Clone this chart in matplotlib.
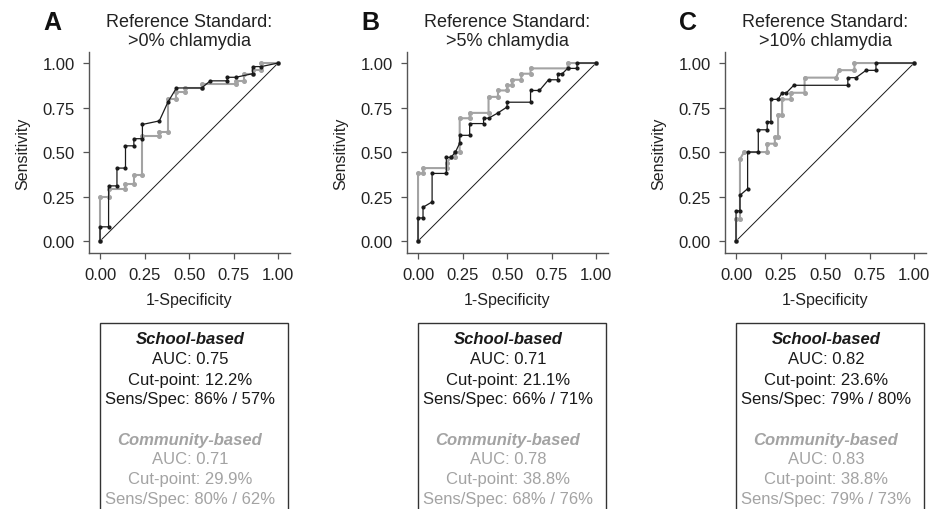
import numpy as np
import matplotlib.pyplot as plt
from matplotlib.patches import Rectangle

plt.rcParams['font.family'] = ['Liberation Sans', 'DejaVu Sans']

panels = ['A', 'B', 'C']
titles = ['Reference Standard:\n>0% chlamydia',
          'Reference Standard:\n>5% chlamydia',
          'Reference Standard:\n>10% chlamydia']

# ROC points (1-specificity, sensitivity)
school_x = [
    [0, 0, 0.048, 0.048, 0.095, 0.095, 0.143, 0.143, 0.19, 0.19, 0.238, 0.238,
     0.333, 0.381, 0.429, 0.571, 0.619, 0.714, 0.714, 0.762, 0.857, 0.857, 0.905, 1],
    [0, 0, 0.028, 0.028, 0.079, 0.079, 0.159, 0.159, 0.185, 0.21, 0.234, 0.234,
     0.29, 0.29, 0.368, 0.368, 0.396, 0.449, 0.5, 0.5, 0.632, 0.632, 0.682, 0.733,
     0.785, 0.785, 0.81, 0.84, 0.893, 0.893, 1],
    [0, 0, 0.022, 0.022, 0.065, 0.065, 0.125, 0.125, 0.175, 0.175, 0.196, 0.196,
     0.236, 0.259, 0.283, 0.324, 0.628, 0.628, 0.674, 0.73, 0.786, 0.786, 1],
]
school_y = [
    [0, 0.08, 0.08, 0.31, 0.31, 0.41, 0.41, 0.535, 0.535, 0.575, 0.575, 0.655,
     0.675, 0.78, 0.86, 0.86, 0.9, 0.9, 0.92, 0.92, 0.94, 0.98, 0.98, 1],
    [0, 0.13, 0.13, 0.19, 0.22, 0.38, 0.38, 0.47, 0.47, 0.5, 0.55, 0.594,
     0.594, 0.66, 0.66, 0.69, 0.69, 0.72, 0.753, 0.78, 0.78, 0.846, 0.846, 0.906,
     0.906, 0.94, 0.94, 0.97, 0.97, 1, 1],
    [0, 0.17, 0.17, 0.257, 0.294, 0.5, 0.5, 0.625, 0.625, 0.67, 0.67, 0.796,
     0.796, 0.833, 0.833, 0.875, 0.875, 0.918, 0.918, 0.959, 0.959, 1, 1],
]
comm_x = [
    [0, 0, 0.048, 0.048, 0.143, 0.143, 0.19, 0.19, 0.238, 0.238, 0.333, 0.333,
     0.381, 0.381, 0.429, 0.429, 0.476, 0.476, 0.571, 0.571, 0.762, 0.762, 0.81,
     0.81, 0.857, 0.857, 0.905, 0.905, 1],
    [0, 0, 0.028, 0.028, 0.16, 0.16, 0.185, 0.21, 0.21, 0.234, 0.234, 0.29, 0.29,
     0.396, 0.396, 0.449, 0.449, 0.5, 0.5, 0.527, 0.527, 0.58, 0.58, 0.632, 0.632,
     0.841, 0.841, 1],
    [0, 0, 0.022, 0.022, 0.045, 0.175, 0.175, 0.218, 0.218, 0.236, 0.236, 0.259,
     0.259, 0.307, 0.307, 0.385, 0.385, 0.562, 0.58, 0.665, 0.665, 1],
]
comm_y = [
    [0, 0.25, 0.25, 0.29, 0.29, 0.32, 0.32, 0.37, 0.37, 0.59, 0.59, 0.61,
     0.61, 0.8, 0.8, 0.84, 0.84, 0.86, 0.86, 0.88, 0.88, 0.9, 0.9,
     0.94, 0.94, 0.96, 0.96, 1, 1],
    [0, 0.38, 0.38, 0.41, 0.41, 0.44, 0.47, 0.47, 0.5, 0.5, 0.69, 0.69, 0.72,
     0.72, 0.81, 0.81, 0.846, 0.846, 0.875, 0.875, 0.906, 0.906, 0.94, 0.94, 0.97,
     0.97, 1, 1],
    [0, 0.125, 0.125, 0.46, 0.5, 0.5, 0.547, 0.547, 0.584, 0.584, 0.71, 0.71,
     0.796, 0.796, 0.833, 0.833, 0.918, 0.918, 0.96, 0.96, 1, 1],
]

school_auc = ['0.75', '0.71', '0.82']
school_cut = ['12.2%', '21.1%', '23.6%']
school_ss = ['86% / 57%', '66% / 71%', '79% / 80%']
comm_auc = ['0.71', '0.78', '0.83']
comm_cut = ['29.9%', '38.8%', '38.8%']
comm_ss = ['80% / 62%', '68% / 76%', '79% / 73%']

black = '#1a1a1a'
gray = '#a3a3a3'
axcol = '#555555'

W, H = 930, 510
fig = plt.figure(figsize=(9.3, 5.1), dpi=100)

for i in range(3):
    left = 89 + 318 * i
    ax = fig.add_axes([left / W, 1 - 254 / H, 201 / W, 201 / H])
    ax.plot([0, 1], [0, 1], color=black, lw=0.7)
    ax.plot(comm_x[i], comm_y[i], color=gray, lw=1.5, marker='o', ms=2.6,
            mfc=gray, mec=gray)
    ax.plot(school_x[i], school_y[i], color=black, lw=0.9, marker='o', ms=2.0,
            mfc=black, mec=black)
    ax.set_xlim(-0.062, 1.067)
    ax.set_ylim(-0.067, 1.062)
    ticks = [0, 0.25, 0.5, 0.75, 1]
    ax.set_xticks(ticks)
    ax.set_yticks(ticks)
    ax.set_xticklabels(['0.00', '0.25', '0.50', '0.75', '1.00'])
    ax.set_yticklabels(['0.00', '0.25', '0.50', '0.75', '1.00'])
    ax.tick_params(labelsize=12, length=4, width=0.9, color=axcol,
                   labelcolor='#222222', pad=6)
    for s in ['top', 'right']:
        ax.spines[s].set_visible(False)
    for s in ['left', 'bottom']:
        ax.spines[s].set_color(axcol)
        ax.spines[s].set_linewidth(1.0)
    ax.set_xlabel('1-Specificity', fontsize=11.5, color='#222222', labelpad=7)
    ax.set_ylabel('Sensitivity', fontsize=11.5, color='#222222', labelpad=9)

    cx = (left + 100) / W
    fig.text(cx, 1 - 32 / H, titles[i], ha='center', va='center',
             fontsize=13, color='#222222', linespacing=1.15)
    fig.text((left - 37) / W, 1 - 23 / H, panels[i], ha='center', va='center',
             fontsize=18, fontweight='bold', color='#111111')

    bl = left + 11
    fig.add_artist(Rectangle((bl / W, -0.05), 188 / W, (1 - 324 / H) + 0.05,
                             transform=fig.transFigure, fill=False,
                             edgecolor='#333333', lw=1.0))
    tx = (bl + 90) / W
    lines = [
        ('School-based', 340, black, True),
        ('AUC: ' + school_auc[i], 360, black, False),
        ('Cut-point: ' + school_cut[i], 380, black, False),
        ('Sens/Spec: ' + school_ss[i], 400, black, False),
        ('Community-based', 440, gray, True),
        ('AUC: ' + comm_auc[i], 460, gray, False),
        ('Cut-point: ' + comm_cut[i], 480, gray, False),
        ('Sens/Spec: ' + comm_ss[i], 500, gray, False),
    ]
    for txt, yy, col, hdr in lines:
        if hdr:
            fig.text(tx, 1 - yy / H, txt, ha='center', va='center', fontsize=12,
                     color=col, fontweight='bold', fontstyle='italic')
        else:
            fig.text(tx, 1 - yy / H, txt, ha='center', va='center', fontsize=12,
                     color=col)

fig.savefig('out.png', dpi=100)
